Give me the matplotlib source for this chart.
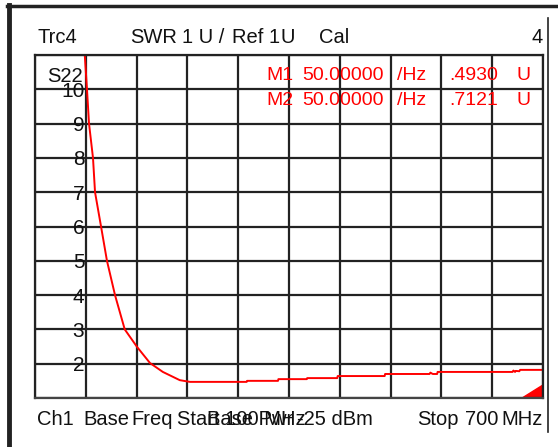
import matplotlib.pyplot as plt
from matplotlib.lines import Line2D
from matplotlib.patches import Polygon

# Data: SWR trace of S22, 100 MHz .. 700 MHz
freq_mhz = [158, 161.4, 163.8, 168.5, 170.9, 178, 185, 194.5, 206, 220.5, 235.8, 251, 271, 283,
            350, 350.5, 387, 387.5, 421, 421.5, 457, 457.5, 513, 513.5, 566, 567, 569, 570, 575,
            575.5, 664, 665, 667, 668, 672, 673, 700]
swr = [11.3, 10.0, 9.0, 8.0, 7.0, 6.0, 5.0, 4.0, 3.0, 2.49, 2.02, 1.76, 1.52, 1.47,
       1.47, 1.50, 1.50, 1.55, 1.55, 1.58, 1.58, 1.64, 1.64, 1.70, 1.70, 1.74, 1.71, 1.70, 1.70,
       1.76, 1.76, 1.80, 1.76, 1.79, 1.78, 1.82, 1.82]

x_ticks = [100, 160, 220, 280, 340, 400, 460, 520, 580, 640, 700]
y_ticks = [1, 2, 3, 4, 5, 6, 7, 8, 9, 10, 11]
y_labels = ['', '2', '3', '4', '5', '6', '7', '8', '9', '10', '']

markers = [('M1', '50.00000', '/Hz', '.4930', 'U'),
           ('M2', '50.00000', '/Hz', '.7121', 'U')]

W, H = 558, 447
plt.rcParams['font.family'] = ['Liberation Sans', 'DejaVu Sans']

fig = plt.figure(figsize=(W / 100, H / 100), dpi=100)
fig.patch.set_facecolor('white')


def ftext(x, y, s, **kw):
    fig.text(x / W, 1 - y / H, s, va='baseline', **kw)


ax = fig.add_axes([35 / W, 1 - 398 / H, 508 / W, 343 / H])
ax.plot(freq_mhz, swr, color='red', lw=1.4, clip_on=True)
ax.set_xlim(100, 700)
ax.set_ylim(1, 11)
ax.set_xticks(x_ticks)
ax.set_yticks(y_ticks)
ax.set_yticklabels(y_labels)
ax.set_xticklabels([])
ax.grid(True, color='#222222', lw=1.6)
ax.tick_params(axis='x', length=0)
ax.tick_params(axis='y', length=0, pad=-35.5, labelsize=15, labelcolor='#111111')
for lab in ax.get_yticklabels():
    lab.set_zorder(5)
for side in ['top', 'left', 'right']:
    ax.spines[side].set_color('#222222')
    ax.spines[side].set_linewidth(1.6)
ax.spines['bottom'].set_color('#444444')
ax.spines['bottom'].set_linestyle((0, (1, 1)))
ax.spines['bottom'].set_linewidth(1.6)

# marker triangle at bottom right
ax.add_patch(Polygon([[0.959, 0], [1, 0.038], [1, 0]], closed=True, transform=ax.transAxes,
                     color='red', clip_on=False))

# outer frame
fig.add_artist(Line2D([9 / W, 9 / W], [1 - 5 / H, 1 - 446 / H], color='#222222', lw=3.5,
                      transform=fig.transFigure))
fig.add_artist(Line2D([7 / W, 1], [1 - 5.5 / H, 1 - 5.5 / H], color='#222222', lw=2.5,
                      transform=fig.transFigure))
fig.add_artist(Line2D([548 / W, 548 / W], [1 - 18 / H, 1 - 432 / H], color='#222222', lw=1.2,
                      transform=fig.transFigure))

# header
black = dict(fontsize=14.5, color='#111111')
ftext(37, 43, 'Trc4', **black)
ftext(130, 43, 'SWR', **black)
ftext(182, 43, '1 U /', **black)
ftext(232, 43, 'Ref 1', **black)
ftext(280, 43, 'U', **black)
ftext(319, 43, 'Cal', **black)
ftext(543, 43, '4', ha='right', **black)
ftext(47, 82, 'S22', **black)

# marker readouts
red = dict(fontsize=14, color='red')
for (name, f, unit, val, u), yb in zip(markers, [80, 105]):
    ftext(266, yb, name, **red)
    ftext(302, yb, f, **red)
    ftext(397, yb, unit, **red)
    ftext(498, yb, val, ha='right', **red)
    ftext(516, yb, u, **red)

# footer
ftext(37, 425, 'Ch1', **black)
ftext(83, 425, 'Base', **black)
ftext(131, 425, 'Freq', **black)
ftext(177, 425, 'Start 100 MHz', **black)
ftext(207, 425, 'Base Pwr', **black)
ftext(373, 425, '-25 dBm', ha='right', **black)
ftext(459, 425, 'Stop', ha='right', **black)
ftext(498, 425, '700', ha='right', **black)
ftext(543, 425, 'MHz', ha='right', **black)

fig.savefig('out.png', dpi=100)
